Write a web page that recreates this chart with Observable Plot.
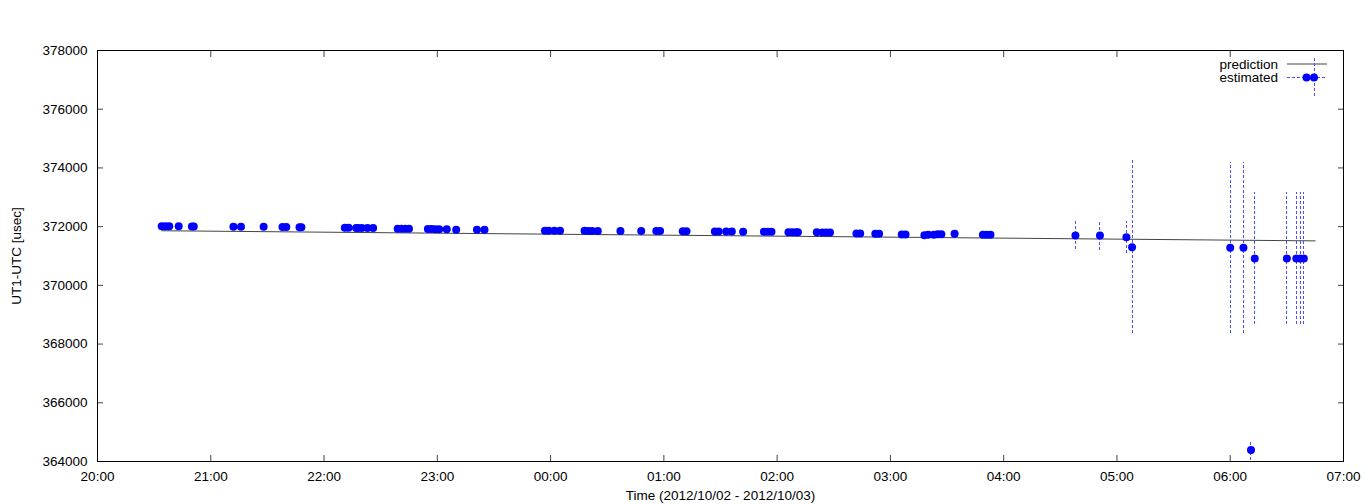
<!DOCTYPE html>
<html><head><meta charset="utf-8">
<script src="https://cdn.jsdelivr.net/npm/d3@7"></script>
<script src="https://cdn.jsdelivr.net/npm/@observablehq/plot@0.6"></script>
<style>
html,body{margin:0;padding:0;background:#fff;}
#chart{width:1368px;height:504px;}
</style></head><body><div id="chart"></div>
<script>
// estimated UT1-UTC (usec), time of day (UTC) 2012/10/02 - 2012/10/03
const times = ["20:34","20:36","20:38","20:43","20:50","20:51","21:12","21:16","21:28","21:38",
  "21:40","21:47","21:48","22:11","22:13","22:17","22:18","22:20","22:23","22:26",
  "22:39","22:41","22:43","22:45","22:55","22:57","22:59","23:01","23:05","23:10",
  "23:21","23:25","23:57","23:59","00:02","00:05","00:18","00:20","00:22","00:25",
  "00:37","00:48","00:56","00:58","01:10","01:12","01:27","01:29","01:33","01:36",
  "01:42","01:53","01:55","01:57","02:06","02:08","02:10","02:11","02:21","02:24",
  "02:26","02:28","02:42","02:44","02:52","02:54","03:06","03:08","03:18","03:20",
  "03:23","03:25","03:27","03:34","03:49","03:51","03:53","04:38","04:51","05:05",
  "05:08","06:00","06:07","06:11","06:13","06:30","06:35","06:37","06:39"];
const values = [372010,372010,372010,372010,372005,372005,371995,371995,371995,371990,
  371990,371982,371982,371960,371960,371955,371955,371955,371950,371950,
  371930,371930,371925,371925,371920,371918,371915,371915,371910,371895,
  371895,371890,371860,371860,371858,371858,371858,371855,371855,371855,
  371855,371855,371852,371852,371846,371846,371838,371836,371834,371834,
  371825,371830,371828,371828,371812,371805,371805,371805,371805,371800,
  371800,371800,371770,371770,371760,371760,371735,371735,371705,371720,
  371725,371745,371740,371755,371720,371728,371728,371700,371700,371640,
  371300,371280,371280,364390,370915,370915,370915,370915,370915];
const errors = [100,100,100,100,100,100,100,100,100,100,
  100,100,100,100,100,100,100,100,100,100,
  100,100,100,100,100,100,100,100,100,100,
  100,100,100,100,100,100,100,100,100,100,
  100,100,100,100,100,100,100,100,100,100,
  100,100,100,100,100,100,100,100,100,100,
  100,100,100,100,100,100,100,100,100,100,
  100,100,100,100,100,100,100,470,510,550,
  2940,2920,2920,340,2265,2265,2265,2265,2265];
// prediction line
const predTimes = ["20:34","06:45"];
const predValues = [371860, 371515];
// axes
const yTicks = [364000,366000,368000,370000,372000,374000,376000,378000];
const xTickLabels = ["20:00","21:00","22:00","23:00","00:00","01:00","02:00","03:00","04:00","05:00","06:00","07:00"];

function toDate(hm){
  const h = +hm.slice(0,2);
  const day = h >= 12 ? "2012-10-02" : "2012-10-03";
  return new Date(`${day}T${hm}:00Z`);
}
const est = times.map((t,i)=>({t: toDate(t), v: values[i], e: errors[i]}));
const pred = predTimes.map((t,i)=>({t: toDate(t), v: predValues[i]}));
const xTicks = xTickLabels.map(toDate);

const W = 1368, H = 504, ML = 97, MR = 25, MT = 50, MB = 43;
const blank = () => "";
const tickColor = "#444";
const barColor = "#4d4dff";
const chart = Plot.plot({
  width: W, height: H,
  marginLeft: ML, marginRight: MR, marginTop: MT, marginBottom: MB,
  style: {fontFamily: "'Liberation Sans', Arial, sans-serif", fontSize: "13.5px", background: "#fff", color: "#000", overflow: "visible"},
  x: {type: "utc", domain: [xTicks[0], xTicks[xTicks.length-1]]},
  y: {domain: [yTicks[0], yTicks[yTicks.length-1]]},
  marks: [
    Plot.axisX({ticks: xTicks, tickSize: 6, dy: -6, tickFormat: blank, label: null, stroke: tickColor}),
    Plot.axisX({anchor: "top", ticks: xTicks, tickSize: 6, dy: 6, tickFormat: blank, label: null, stroke: tickColor}),
    Plot.axisX({ticks: xTicks, tickSize: 0, tickPadding: 10, tickFormat: d3.utcFormat("%H:%M"),
      label: "Time (2012/10/02 - 2012/10/03)", labelAnchor: "center", labelOffset: 38, labelArrow: "none"}),
    Plot.axisY({ticks: yTicks, tickSize: 6, dx: 6, tickFormat: blank, label: null, stroke: tickColor}),
    Plot.axisY({anchor: "right", ticks: yTicks, tickSize: 6, dx: -6, tickFormat: blank, label: null, stroke: tickColor}),
    Plot.axisY({ticks: yTicks, tickSize: 0, tickPadding: 10, tickFormat: d => String(d),
      label: "UT1-UTC [usec]", labelAnchor: "center", labelOffset: 86, labelArrow: "none"}),
    Plot.ruleX(est, {x: "t", y1: d => d.v - d.e, y2: d => d.v + d.e, stroke: barColor, strokeWidth: 1, strokeDasharray: "3,2", shapeRendering: "crispEdges"}),
    Plot.line(pred, {x: "t", y: "v", stroke: "#444", strokeWidth: 1}),
    Plot.dot(est, {x: "t", y: "v", r: 4, fill: "#0000ff", stroke: "none"}),
    Plot.frame({stroke: "#000", strokeWidth: 1})
  ]
});
document.getElementById("chart").appendChild(chart);

// key (legend) inside top-right of the plot area
const svg = d3.select(chart);
const key = svg.append("g").attr("font-family", "'Liberation Sans', Arial, sans-serif").attr("font-size", "13.5px");
const kx = W - MR; // right edge of frame
key.append("text").attr("x", kx - 65).attr("y", 64).attr("text-anchor", "end").attr("dy", "0.35em").text("prediction");
key.append("line").attr("x1", kx - 56).attr("x2", kx - 16).attr("y1", 64).attr("y2", 64).attr("stroke", "#444");
key.append("text").attr("x", kx - 65).attr("y", 77.5).attr("text-anchor", "end").attr("dy", "0.35em").text("estimated");
key.append("line").attr("x1", kx - 56).attr("x2", kx - 16).attr("y1", 77.5).attr("y2", 77.5)
  .attr("stroke", barColor).attr("stroke-dasharray", "3,2").attr("shape-rendering", "crispEdges");
key.append("line").attr("x1", kx - 29).attr("x2", kx - 29).attr("y1", 58).attr("y2", 96)
  .attr("stroke", barColor).attr("stroke-dasharray", "3,2").attr("shape-rendering", "crispEdges");
key.append("circle").attr("cx", kx - 36.5).attr("cy", 77.5).attr("r", 4).attr("fill", "#0000ff");
key.append("circle").attr("cx", kx - 29).attr("cy", 77.5).attr("r", 4).attr("fill", "#0000ff");
</script>
</body></html>
